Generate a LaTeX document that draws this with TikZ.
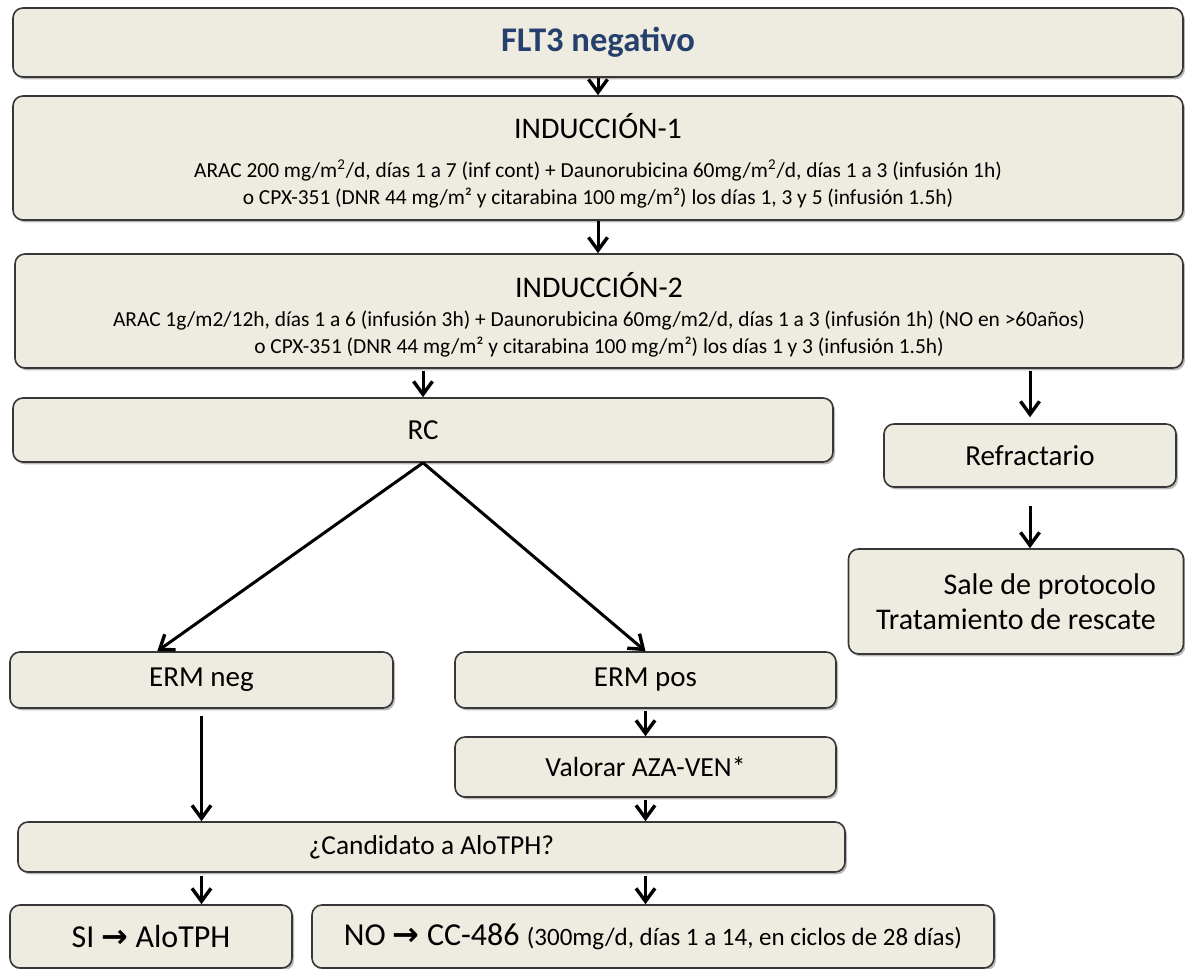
\documentclass[tikz,border=0pt]{standalone}
\usepackage{fontspec}
\setmainfont{Carlito}
\newfontfamily\arrowfont{DejaVu Sans}
\usepackage{tikz}
\usetikzlibrary{arrows.meta,calc,positioning,shadows}
\definecolor{boxfill}{RGB}{238,235,224}
\definecolor{boxline}{RGB}{55,55,55}
\definecolor{titleblue}{RGB}{38,64,110}
\tikzset{
        block/.style = {draw=boxline, fill=boxfill, rectangle,
            rounded corners=5pt, line width=0.8pt,
            align=center, inner sep=2pt,
            font=\fontsize{14.5}{17}\selectfont,
            drop shadow={shadow xshift=1pt, shadow yshift=-1.2pt,
                fill=black!60, opacity=0.45}},
        arrow/.style = {draw, line width=1.5pt,
            -{Straight Barb[length=6.5pt,width=9.5pt,line width=1.7pt]}},
        body/.style = {font=\fontsize{10.7}{13.5}\selectfont},
    }
\newcommand{\flecha}{{\arrowfont\bfseries\char"2192}}

\begin{document}
\begin{tikzpicture}[x=0.5pt,y=-0.5pt]
    \useasboundingbox (0,0) rectangle (1185,969);

    % cajas principales
    \node[block, minimum width=585pt, minimum height=34.5pt] (flt) at (598,42.5)
        {\color{titleblue}\bfseries\fontsize{17.3}{20}\selectfont FLT3 negativo};
    \node[block, body, minimum width=585pt, minimum height=62pt] (ind1) at (598,158)
        {{\fontsize{15}{18}\selectfont\rule{0pt}{15pt}INDUCCIÓN-1}\\[6pt]
         ARAC 200 mg/m\textsuperscript{2}/d, días 1 a 7 (inf cont) + Daunorubicina 60mg/m\textsuperscript{2}/d, días 1 a 3 (infusión 1h)\\
         o CPX-351 (DNR 44 mg/m² y citarabina 100 mg/m²) los días 1, 3 y 5 (infusión 1.5h)};
    \node[block, body, minimum width=584pt, minimum height=57pt] (ind2) at (599,311)
        {{\fontsize{15}{18}\selectfont\rule{0pt}{16pt}INDUCCIÓN-2}\\[1pt]
         ARAC 1g/m2/12h, días 1 a 6 (infusión 3h) + Daunorubicina 60mg/m2/d, días 1 a 3 (infusión 1h) (NO en >60años)\\
         o CPX-351 (DNR 44 mg/m² y citarabina 100 mg/m²) los días 1 y 3 (infusión 1.5h)};

    \node[block, minimum width=410pt, minimum height=32pt] (rc) at (423,430) {RC};
    \node[block, minimum width=146pt, minimum height=31.5pt] (refr) at (1030,455.5) {Refractario};
    \node[block, align=right, font=\fontsize{15}{17.5}\selectfont,
        minimum width=167.5pt, minimum height=52.5pt] (sale) at (1016,601.5)
        {Sale de protocolo\\Tratamiento de rescate};

    \node[block, minimum width=191.5pt, minimum height=28pt] (ermneg) at (201.5,680) {ERM neg};
    \node[block, minimum width=190.5pt, minimum height=28pt] (ermpos) at (645.5,680) {ERM pos};
    \node[block, font=\fontsize{13.8}{16}\selectfont,
        minimum width=190.5pt, minimum height=30pt] (val) at (645.5,767) {Valorar AZA-VEN*};
    \node[block, font=\fontsize{13.7}{16}\selectfont,
        minimum width=413.5pt, minimum height=25pt] (cand) at (431.5,847) {¿Candidato a AloTPH?};

    \node[block, font=\fontsize{16}{18}\selectfont,
        minimum width=141pt, minimum height=31.5pt] (si) at (151,936.5) {SI \flecha{} AloTPH};
    \node[block, font=\fontsize{16}{18}\selectfont,
        minimum width=341pt, minimum height=31.5pt] (no) at (653,936.5)
        {NO \flecha{} CC-486 {\fontsize{12.5}{14}\selectfont(300mg/d, días 1 a 14, en ciclos de 28 días)}};

    % flechas
    \draw[arrow] (flt) -- (ind1);
    \draw[arrow] (ind1.south) -- (ind1.south |- ind2.north);
    \draw[arrow, shorten <=1pt] (ind2.south -| rc.north) -- (rc.north);
    \draw[arrow, shorten <=1pt, shorten >=3pt] (ind2.south -| refr.north) -- (refr.north);
    \draw[arrow, shorten <=9pt] (refr.south) -- (refr.south |- sale.north);

    \draw[arrow] (rc.south) -- ($(ermneg.north west)!0.385!(ermneg.north east)$);
    \draw[arrow] (rc.south) -- (ermpos.north);
    \draw[arrow, shorten <=3.5pt] (ermneg.south) -- (ermneg.south |- cand.north);
    \draw[arrow, shorten <=1pt] (ermpos) -- (val);
    \draw[arrow, shorten <=1pt] (val.south) -- (val.south |- cand.north);
    \draw[arrow, shorten <=1.5pt] (ermneg.south |- cand.south) -- (ermneg.south |- si.north);
    \draw[arrow, shorten <=1.5pt] (val.south |- cand.south) -- (val.south |- no.north);
\end{tikzpicture}
\end{document}
